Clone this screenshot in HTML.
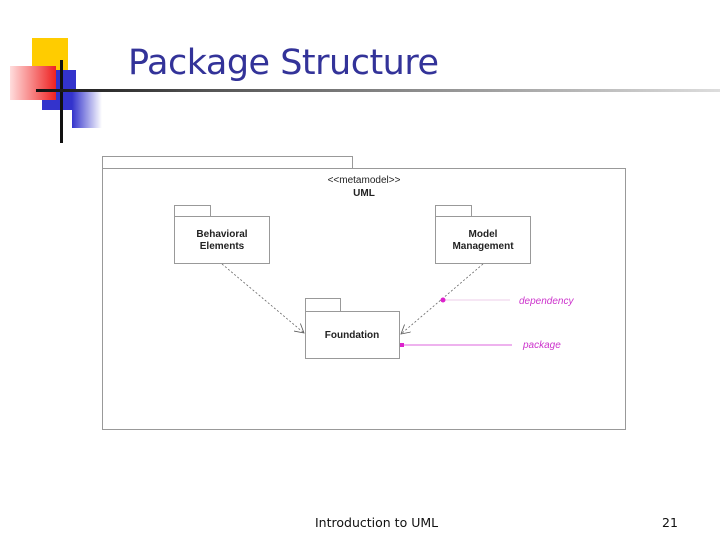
<!DOCTYPE html>
<html><head><meta charset="utf-8"><style>
html,body{margin:0;padding:0;background:#fff;}
body{width:720px;height:540px;position:relative;overflow:hidden;font-family:"Liberation Sans",sans-serif;}
.a{position:absolute;}
</style></head><body>
<div class="a" style="left:32px;top:38px;width:36px;height:32px;background:#ffcc00"></div>
<div class="a" style="left:42px;top:70px;width:34px;height:40px;background:#3333cc"></div>
<div class="a" style="left:72px;top:92px;width:30px;height:36px;background:linear-gradient(to right,#3333cc,#ffffff)"></div>
<div class="a" style="left:10px;top:66px;width:46px;height:34px;background:linear-gradient(to right,#ffdddd,#ee2222)"></div>
<div class="a" style="left:60px;top:60px;width:3px;height:83px;background:#111"></div>
<div class="a" style="left:36px;top:89px;width:684px;height:3px;background:linear-gradient(to right,#111 0%,#555 25%,#ddd 100%)"></div>
<div class="a" style="left:128px;top:43px;font-size:35px;color:#333399;font-family:'DejaVu Sans',sans-serif;letter-spacing:-0.5px">Package Structure</div>
<svg class="a" style="left:0;top:0" width="720" height="540">
<defs><marker id="ar" markerWidth="10" markerHeight="10" refX="9" refY="5" orient="auto" markerUnits="userSpaceOnUse"><path d="M0,0 L9,5 L0,10" fill="none" stroke="#555" stroke-width="0.8"/></marker></defs>
<g fill="none" stroke="#999" stroke-width="1">
<rect x="102.5" y="156.5" width="250" height="12"/>
<rect x="102.5" y="168.5" width="523" height="261"/>
<rect x="174.5" y="205.5" width="36" height="11"/>
<rect x="174.5" y="216.5" width="95" height="47"/>
<rect x="435.5" y="205.5" width="36" height="11"/>
<rect x="435.5" y="216.5" width="95" height="47"/>
<rect x="305.5" y="298.5" width="35" height="13"/>
<rect x="305.5" y="311.5" width="94" height="47"/>
</g>
<g stroke="#666" stroke-width="0.8" stroke-dasharray="2,2" fill="none">
<line x1="222" y1="264" x2="304" y2="333" marker-end="url(#ar)"/>
<line x1="483" y1="264" x2="401" y2="334" marker-end="url(#ar)"/>
</g>
<line x1="443" y1="300" x2="510" y2="300" stroke="#eecce8" stroke-width="1"/>
<circle cx="443" cy="300" r="2.5" fill="#dd22cc"/>
<line x1="402" y1="345" x2="512" y2="345" stroke="#dd66dd" stroke-width="1"/>
<rect x="400" y="343" width="4" height="4" fill="#dd22cc"/>
<g font-family="Liberation Sans,sans-serif" font-size="10" font-weight="bold" text-anchor="middle" fill="#222">
<text x="364" y="183" font-weight="normal">&lt;&lt;metamodel&gt;&gt;</text>
<text x="364" y="196">UML</text>
<text x="222" y="237">Behavioral</text>
<text x="222" y="249">Elements</text>
<text x="483" y="237">Model</text>
<text x="483" y="249">Management</text>
<text x="352" y="338">Foundation</text>
</g>
<g font-family="Liberation Sans,sans-serif" font-size="10" font-style="italic" fill="#cc33cc">
<text x="519" y="304">dependency</text>
<text x="523" y="348">package</text>
</g>
</svg>
<div class="a" style="left:315px;top:515px;font-size:12.5px;color:#111;font-family:'DejaVu Sans',sans-serif">Introduction to UML</div>
<div class="a" style="left:662px;top:515px;font-size:12.5px;color:#111;font-family:'DejaVu Sans',sans-serif">21</div>
</body></html>
